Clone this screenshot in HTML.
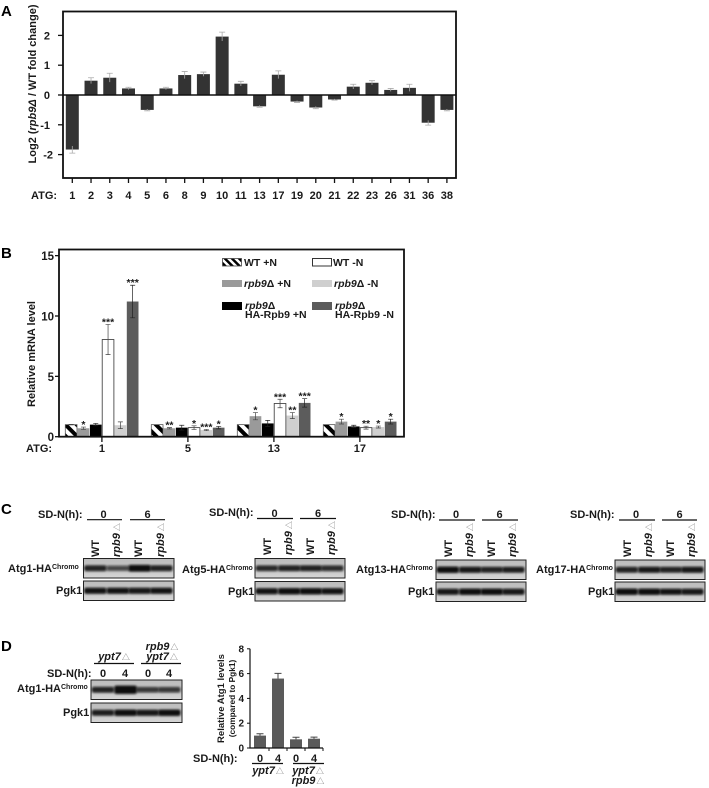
<!DOCTYPE html>
<html lang="en">
<head>
<meta charset="utf-8">
<title>rpb9 ATG expression figure</title>
<style>
html,body{margin:0;padding:0;background:#fff;}
svg{display:block;}
text{font-family:"Liberation Sans","Noto Sans CJK JP",sans-serif;font-weight:bold;fill:#1a1a1a;}
.tick{font-size:11px;}
.lab{font-size:11px;}
.blot{font-size:11px;}
.letter{font-size:15px;fill:#000;}
.tri{font-weight:normal;font-style:normal;fill:#777;font-size:8px;}
.sup{font-size:7px;}
.leg{font-size:10.5px;}
</style>
</head>
<body>
<svg id="fig" xmlns="http://www.w3.org/2000/svg" width="709" height="788" viewBox="0 0 709 788">
<defs>
<pattern id="hatch" patternUnits="userSpaceOnUse" width="8" height="8" patternTransform="rotate(-45)">
<rect width="8" height="8" fill="#fff"/>
<rect width="4" height="8" fill="#000"/>
</pattern>
<pattern id="hatchLegend" patternUnits="userSpaceOnUse" width="5" height="5" patternTransform="rotate(-45)">
<rect width="5" height="5" fill="#fff"/>
<rect width="2.500" height="5" fill="#000"/>
</pattern>
<filter id="blur" x="-30%" y="-100%" width="160%" height="300%"><feGaussianBlur stdDeviation="1.1"/></filter>
<linearGradient id="blotbg" x1="0" y1="0" x2="0" y2="1">
<stop offset="0" stop-color="#bdbdbd"/><stop offset="0.5" stop-color="#c4c4c4"/><stop offset="1" stop-color="#d6d6d6"/>
</linearGradient>
</defs>

<text class="letter" x="1" y="16">A</text>
<text class="letter" x="1" y="258">B</text>
<text class="letter" x="1" y="514">C</text>
<text class="letter" x="1" y="651">D</text>

<g id="blots"></g>

<!-- Panel A -->
<g id="chartA"></g>
<text class="lab" transform="translate(36,84) rotate(-90)" text-anchor="middle">Log2 (<tspan font-style="italic">rpb9Δ</tspan> / WT  fold change)</text>
<text class="tick" x="31" y="199">ATG:</text>

<!-- Panel B -->
<g id="chartB"></g>
<text class="lab" transform="translate(35,354) rotate(-90)" text-anchor="middle">Relative mRNA level</text>
<text class="tick" x="26" y="452">ATG:</text>

<g>
<rect x="222.500" y="258.500" width="19" height="7.500" fill="url(#hatchLegend)" stroke="#444" stroke-width="0.8"/>
<text class="leg" x="244" y="266">WT +N</text>
<rect x="312.500" y="258.500" width="19" height="7.500" fill="#fff" stroke="#333" stroke-width="1"/>
<text class="leg" x="333" y="266">WT -N</text>
<rect x="222" y="280" width="20" height="7" fill="#9a9a9a"/>
<text class="leg" x="244" y="287"><tspan font-style="italic">rpb9</tspan>Δ +N</text>
<rect x="312" y="280" width="20" height="7" fill="#cfcfcf"/>
<text class="leg" x="334" y="287"><tspan font-style="italic">rpb9</tspan>Δ -N</text>
<rect x="222" y="302" width="20" height="8" fill="#000"/>
<text class="leg" x="245" y="309"><tspan font-style="italic">rpb9</tspan>Δ<tspan x="245" y="318">HA-Rpb9 +N</tspan></text>
<rect x="312" y="302" width="20" height="8" fill="#5c5c5c"/>
<text class="leg" x="335" y="309"><tspan font-style="italic">rpb9</tspan>Δ<tspan x="335" y="318">HA-Rpb9 -N</tspan></text>
</g>

<!-- Panel C text -->
<g class="blot">
<g>
<text x="38" y="518">SD-N(h):</text>
<text x="103.500" y="518" text-anchor="middle">0</text>
<text x="147.500" y="518" text-anchor="middle">6</text>
<path d="M87 519.700H122M130 519.700H165" stroke="#111" stroke-width="1.2"/>
<text transform="translate(99,557) rotate(-90)">WT</text>
<text transform="translate(120,557) rotate(-90)" font-style="italic">rpb9<tspan class="tri" dx="2">△</tspan></text>
<text transform="translate(142,557) rotate(-90)">WT</text>
<text transform="translate(164,557) rotate(-90)" font-style="italic">rpb9<tspan class="tri" dx="2">△</tspan></text>
<text x="8" y="572">Atg1-HA<tspan class="sup" dy="-3">Chromo</tspan></text>
<text x="56" y="594">Pgk1</text>
</g>
<g>
<text x="209" y="516">SD-N(h):</text>
<text x="274.500" y="517" text-anchor="middle">0</text>
<text x="318" y="517" text-anchor="middle">6</text>
<path d="M257 518.500H293M300 518.500H336" stroke="#111" stroke-width="1.2"/>
<text transform="translate(271,555) rotate(-90)">WT</text>
<text transform="translate(292,555) rotate(-90)" font-style="italic">rpb9<tspan class="tri" dx="2">△</tspan></text>
<text transform="translate(314,555) rotate(-90)">WT</text>
<text transform="translate(335,555) rotate(-90)" font-style="italic">rpb9<tspan class="tri" dx="2">△</tspan></text>
<text x="182" y="573">Atg5-HA<tspan class="sup" dy="-3">Chromo</tspan></text>
<text x="228" y="595">Pgk1</text>
</g>
<g>
<text x="391" y="518">SD-N(h):</text>
<text x="456" y="518" text-anchor="middle">0</text>
<text x="499.500" y="518" text-anchor="middle">6</text>
<path d="M439 520H475M482 520H518" stroke="#111" stroke-width="1.2"/>
<text transform="translate(452,557) rotate(-90)">WT</text>
<text transform="translate(473,557) rotate(-90)" font-style="italic">rpb9<tspan class="tri" dx="2">△</tspan></text>
<text transform="translate(495,557) rotate(-90)">WT</text>
<text transform="translate(516,557) rotate(-90)" font-style="italic">rpb9<tspan class="tri" dx="2">△</tspan></text>
<text x="356" y="573">Atg13-HA<tspan class="sup" dy="-3">Chromo</tspan></text>
<text x="408" y="595">Pgk1</text>
</g>
<g>
<text x="570" y="518">SD-N(h):</text>
<text x="636" y="518" text-anchor="middle">0</text>
<text x="679.500" y="518" text-anchor="middle">6</text>
<path d="M619 520H655M662 520H697" stroke="#111" stroke-width="1.2"/>
<text transform="translate(631,557) rotate(-90)">WT</text>
<text transform="translate(652,557) rotate(-90)" font-style="italic">rpb9<tspan class="tri" dx="2">△</tspan></text>
<text transform="translate(674,557) rotate(-90)">WT</text>
<text transform="translate(695,557) rotate(-90)" font-style="italic">rpb9<tspan class="tri" dx="2">△</tspan></text>
<text x="536" y="573">Atg17-HA<tspan class="sup" dy="-3">Chromo</tspan></text>
<text x="588" y="595">Pgk1</text>
</g>
</g>

<!-- Panel D blot text -->
<g class="blot">
<text x="114" y="660" text-anchor="middle" font-style="italic">ypt7<tspan class="tri" dx="1">△</tspan></text>
<text x="162" y="650" text-anchor="middle" font-style="italic">rpb9<tspan class="tri" dx="1">△</tspan></text>
<text x="162" y="660" text-anchor="middle" font-style="italic">ypt7<tspan class="tri" dx="1">△</tspan></text>
<path d="M94 663.500H134M141 663.500H181" stroke="#111" stroke-width="1.2"/>
<text x="47" y="677">SD-N(h):</text>
<text x="103" y="677" text-anchor="middle">0</text>
<text x="125" y="677" text-anchor="middle">4</text>
<text x="148" y="677" text-anchor="middle">0</text>
<text x="169" y="677" text-anchor="middle">4</text>
<text x="17" y="692">Atg1-HA<tspan class="sup" dy="-3">Chromo</tspan></text>
<text x="63" y="716">Pgk1</text>
</g>

<!-- Panel D chart -->
<g id="chartD"></g>
<text style="font-size:9.5px" transform="translate(224,698.500) rotate(-90)" text-anchor="middle">Relative Atg1 levels</text>
<text style="font-size:8.3px" transform="translate(235,698.500) rotate(-90)" text-anchor="middle">(compared to Pgk1)</text>
<g class="blot">
<text x="193" y="762">SD-N(h):</text>
<text x="260" y="762" text-anchor="middle">0</text>
<text x="278" y="762" text-anchor="middle">4</text>
<text x="296" y="762" text-anchor="middle">0</text>
<text x="314" y="762" text-anchor="middle">4</text>
<path d="M252 763.500H283M293 763.500H324" stroke="#111" stroke-width="1.2"/>
<text x="268" y="774" text-anchor="middle" font-style="italic">ypt7<tspan class="tri" dx="1">△</tspan></text>
<text x="308" y="774" text-anchor="middle" font-style="italic">ypt7<tspan class="tri" dx="1">△</tspan></text>
<text x="308" y="784" text-anchor="middle" font-style="italic">rpb9<tspan class="tri" dx="1">△</tspan></text>
</g>
</svg>

<script>
var NS = 'http://www.w3.org/2000/svg';

/* Panel A data */
var atgLabelsA = ['1','2','3','4','5','6','8','9','10','11','13','17','19','20','21','22','23','26','31','36','38'];
var log2Values = [-1.83,0.48,0.58,0.22,-0.5,0.22,0.67,0.7,1.96,0.38,-0.38,0.68,-0.22,-0.42,-0.15,0.28,0.41,0.17,0.24,-0.93,-0.5];
var log2Errors = [0.12,0.1,0.15,0.04,0.03,0.04,0.12,0.07,0.15,0.08,0.03,0.13,0.03,0.04,0.02,0.08,0.07,0.05,0.12,0.08,0.03];
var ticksA = [-2,-1,0,1,2];

/* Panel B data */
var atgLabelsB = ['1','5','13','17'];
var seriesNames = ['wt-plus-n','rpb9-plus-n','rescue-plus-n','wt-minus-n','rpb9-minus-n','rescue-minus-n'];
var mrnaValues = [
  [1,0.7,1,8.05,0.95,11.2],
  [1,0.7,0.75,0.75,0.55,0.75],
  [1,1.7,1.1,2.75,1.75,2.8],
  [1,1.25,0.85,0.75,0.8,1.25]
];
var mrnaErrors = [
  [0.02,0.1,0.1,1.25,0.28,1.35],
  [0,0.05,0.2,0.15,0.05,0.1],
  [0,0.3,0.25,0.35,0.25,0.35],
  [0,0.2,0.1,0.12,0.08,0.2]
];
var mrnaStars = [
  ['','*','','***','','***'],
  ['','**','','*','***','*'],
  ['','*','','***','**','***'],
  ['','*','','**','*','*']
];
var ticksB = [0,5,10,15];

/* Panel D data */
var atg1Values = [1,5.6,0.7,0.75];
var atg1Errors = [0.15,0.42,0.17,0.13];
var ticksD = [0,2,4,6,8];

/* Blot band intensities, one per lane */
var bandsAtg1 = [0.8,0.45,1.2,0.8];
var bandsAtg5 = [0.75,0.8,0.8,0.7];
var bandsAtg13 = [1,0.9,0.8,0.85];
var bandsAtg17 = [0.8,0.9,0.8,0.9];
var bandsPgkC1 = [0.95,0.95,0.9,0.95];
var bandsPgkC2 = [0.95,1,1,0.95];
var bandsPgkC3 = [0.9,1,1,0.9];
var bandsPgkC4 = [1,1,0.95,0.9];
var bandsAtg1D = [0.8,2,0.6,0.6];
var bandsPgkD = [0.85,1,0.9,1];

function mk(tag, attrs, parent, txt) {
  var el = document.createElementNS(NS, tag);
  for (var k in attrs) el.setAttribute(k, attrs[k]);
  if (txt !== undefined) el.textContent = txt;
  parent.appendChild(el);
  return el;
}

/* ---- Panel A ---- */
var gA = document.getElementById('chartA');
function yA(v) { return 95 - v * 29.8; }
function xA(i) { return 72.3 + i * 18.73; }
log2Values.forEach(function (v, i) {
  var y0 = Math.min(yA(0), yA(v)), h = Math.abs(yA(v) - yA(0));
  var bar = mk('rect', {x: xA(i) - 6.5, y: y0, width: 13, height: h, fill: '#333'}, gA);
  
  
  var e = log2Errors[i], end = v + (v >= 0 ? e : -e);
  var err = mk('path', {d: 'M' + xA(i) + ' ' + yA(v - (v >= 0 ? e : -e)) + 'V' + yA(end) + 'M' + (xA(i) - 3) + ' ' + yA(end) + 'h6', stroke: '#aaa', 'stroke-width': 0.8, fill: 'none'}, gA);
  
  
  var tk = mk('path', {d: 'M' + xA(i) + ' 178V183', stroke: '#111', 'stroke-width': 1.3}, gA);
  
  
  var lb = mk('text', {x: xA(i), y: 199, 'text-anchor': 'middle', 'class': 'tick'}, gA, atgLabelsA[i]);
  
  
});
var frameA = mk('rect', {x: 63, y: 11.500, width: 393, height: 166.500, fill: 'none', stroke: '#111', 'stroke-width': 1.8}, gA);


var zeroA = mk('path', {d: 'M63 ' + yA(0) + 'H456', stroke: '#111', 'stroke-width': 1.6}, gA);


ticksA.forEach(function (t) {
  var tk = mk('path', {d: 'M58 ' + yA(t) + 'H63', stroke: '#111', 'stroke-width': 1.3}, gA);
  
  
  var lb = mk('text', {x: t === -2 ? 53 : 50, y: yA(t) + 4, 'text-anchor': 'end', 'class': 'tick'}, gA, String(t));
  
  
});

/* ---- Panel B ---- */
var gB = document.getElementById('chartB');
var fillsB = ['url(#hatch)', '#9a9a9a', '#000', '#fff', '#cfcfcf', '#5c5c5c'];
function yB(v) { return 436.7 - v * 12.07; }
function xB(g, s) { return 65 + g * 86 + s * 12.3; }
mrnaValues.forEach(function (grp, g) {
  grp.forEach(function (v, s) {
    var x = xB(g, s), bw = 12.3;
    var bar = mk('rect', {x: x + 0.3, y: yB(v), width: bw - 0.6, height: yB(0) - yB(v), fill: fillsB[s], stroke: s === 3 ? '#333' : (s === 0 ? '#555' : 'none'), 'stroke-width': 0.8}, gB);
    
    
    var e = mrnaErrors[g][s];
    if (e > 0.01) {
      var cx = x + bw / 2;
      var err = mk('path', {d: 'M' + cx + ' ' + yB(v - e) + 'V' + yB(v + e) + 'M' + (cx - 2.5) + ' ' + yB(v + e) + 'h5M' + (cx - 2.5) + ' ' + yB(v - e) + 'h5', stroke: s === 5 || s === 2 ? '#222' : '#444', 'stroke-width': 0.7, fill: 'none'}, gB);
      
      
    }
    if (mrnaStars[g][s]) {
      var st = mk('text', {x: x + bw / 2, y: yB(v + e) + 1, 'text-anchor': 'middle', 'font-size': 10.5}, gB, mrnaStars[g][s]);
      
      
    }
  });
  var cx = xB(g, 3);
  var tk = mk('path', {d: 'M' + cx + ' 436V442', stroke: '#111', 'stroke-width': 1.3}, gB);
  
  
  var lb = mk('text', {x: cx, y: 452, 'text-anchor': 'middle', 'class': 'tick'}, gB, atgLabelsB[g]);
  
  
});
var frameB = mk('rect', {x: 59, y: 249.500, width: 345, height: 187.200, fill: 'none', stroke: '#111', 'stroke-width': 1.8}, gB);


ticksB.forEach(function (t) {
  var tk = mk('path', {d: 'M55 ' + yB(t) + 'H59', stroke: '#111', 'stroke-width': 1.3}, gB);
  
  
  var lb = mk('text', {x: 54, y: yB(t) + 4.500, 'text-anchor': 'end', 'font-size': 11.500}, gB, String(t));
  
  
});

/* ---- Panel D chart ---- */
var gD = document.getElementById('chartD');
function yD(v) { return 748 - v * 12.4; }
function xD(i) { return 260 + i * 18; }
atg1Values.forEach(function (v, i) {
  var bar = mk('rect', {x: xD(i) - 6, y: yD(v), width: 12, height: yD(0) - yD(v), fill: '#5a5a5a'}, gD);
  
  
  var top = yD(v + atg1Errors[i]);
  var err = mk('path', {d: 'M' + xD(i) + ' ' + yD(v) + 'V' + top + 'M' + (xD(i) - 3.500) + ' ' + top + 'h7', stroke: '#444', 'stroke-width': 1, fill: 'none'}, gD);
  
  
  var tk = mk('path', {d: 'M' + (xD(i) + 9) + ' 748v3', stroke: '#111', 'stroke-width': 1}, gD);
  
  
});
var axD = mk('path', {d: 'M250 ' + yD(8) + 'V748H323', stroke: '#111', 'stroke-width': 1.2, fill: 'none'}, gD);


ticksD.forEach(function (t) {
  var tk = mk('path', {d: 'M247 ' + yD(t) + 'H250', stroke: '#111', 'stroke-width': 1}, gD);
  
  
  var lb = mk('text', {x: 244, y: yD(t) + 3.500, 'text-anchor': 'end', 'font-size': 10}, gD, String(t));
  
  
});

/* ---- Western blots ---- */
var gBlots = document.getElementById('blots');
function drawBlot(x, y, w, h, bands, name) {
  var g = mk('g', {}, gBlots);
  
  
  mk('rect', {x: x, y: y, width: w, height: h, fill: 'url(#blotbg)'}, g);
  mk('rect', {x: x + 2, y: y + h * 0.5 - 3, width: w - 4, height: 6, fill: '#333', opacity: 0.3, filter: 'url(#blur)'}, g);
  var laneOffsets = [0.13, 0.38, 0.62, 0.86];
  bands.forEach(function (s, i) {
    var bw = w * 0.245, bh = 3.5 + 2.4 * s;
    var band = mk('rect', {x: x + w * laneOffsets[i] - bw / 2, y: y + h * 0.5 - bh / 2, width: bw, height: bh, rx: 2, fill: '#0c0c0c', opacity: Math.min(1, 0.25 + 0.75 * s), filter: 'url(#blur)'}, g);
    
    
  });
  mk('rect', {x: x, y: y, width: w, height: h, fill: 'none', stroke: '#222', 'stroke-width': 1}, g);
}
drawBlot(83.500, 558.500, 90.500, 19.500, bandsAtg1, 'atg1-blot');
drawBlot(83.500, 581, 90.500, 19.500, bandsPgkC1, 'pgk1-blot');
drawBlot(255, 558.500, 90, 19.500, bandsAtg5, 'atg5-blot');
drawBlot(255, 581.500, 90, 19.500, bandsPgkC2, 'pgk1-blot');
drawBlot(436, 560, 90, 19.500, bandsAtg13, 'atg13-blot');
drawBlot(436, 582, 90, 19.500, bandsPgkC3, 'pgk1-blot');
drawBlot(615, 560, 90, 19.500, bandsAtg17, 'atg17-blot');
drawBlot(615, 582, 90, 19.500, bandsPgkC4, 'pgk1-blot');
drawBlot(91, 680, 91, 19.500, bandsAtg1D, 'atg1-blot-d');
drawBlot(91, 703, 91, 19.500, bandsPgkD, 'pgk1-blot-d');
</script>
</body>
</html>
